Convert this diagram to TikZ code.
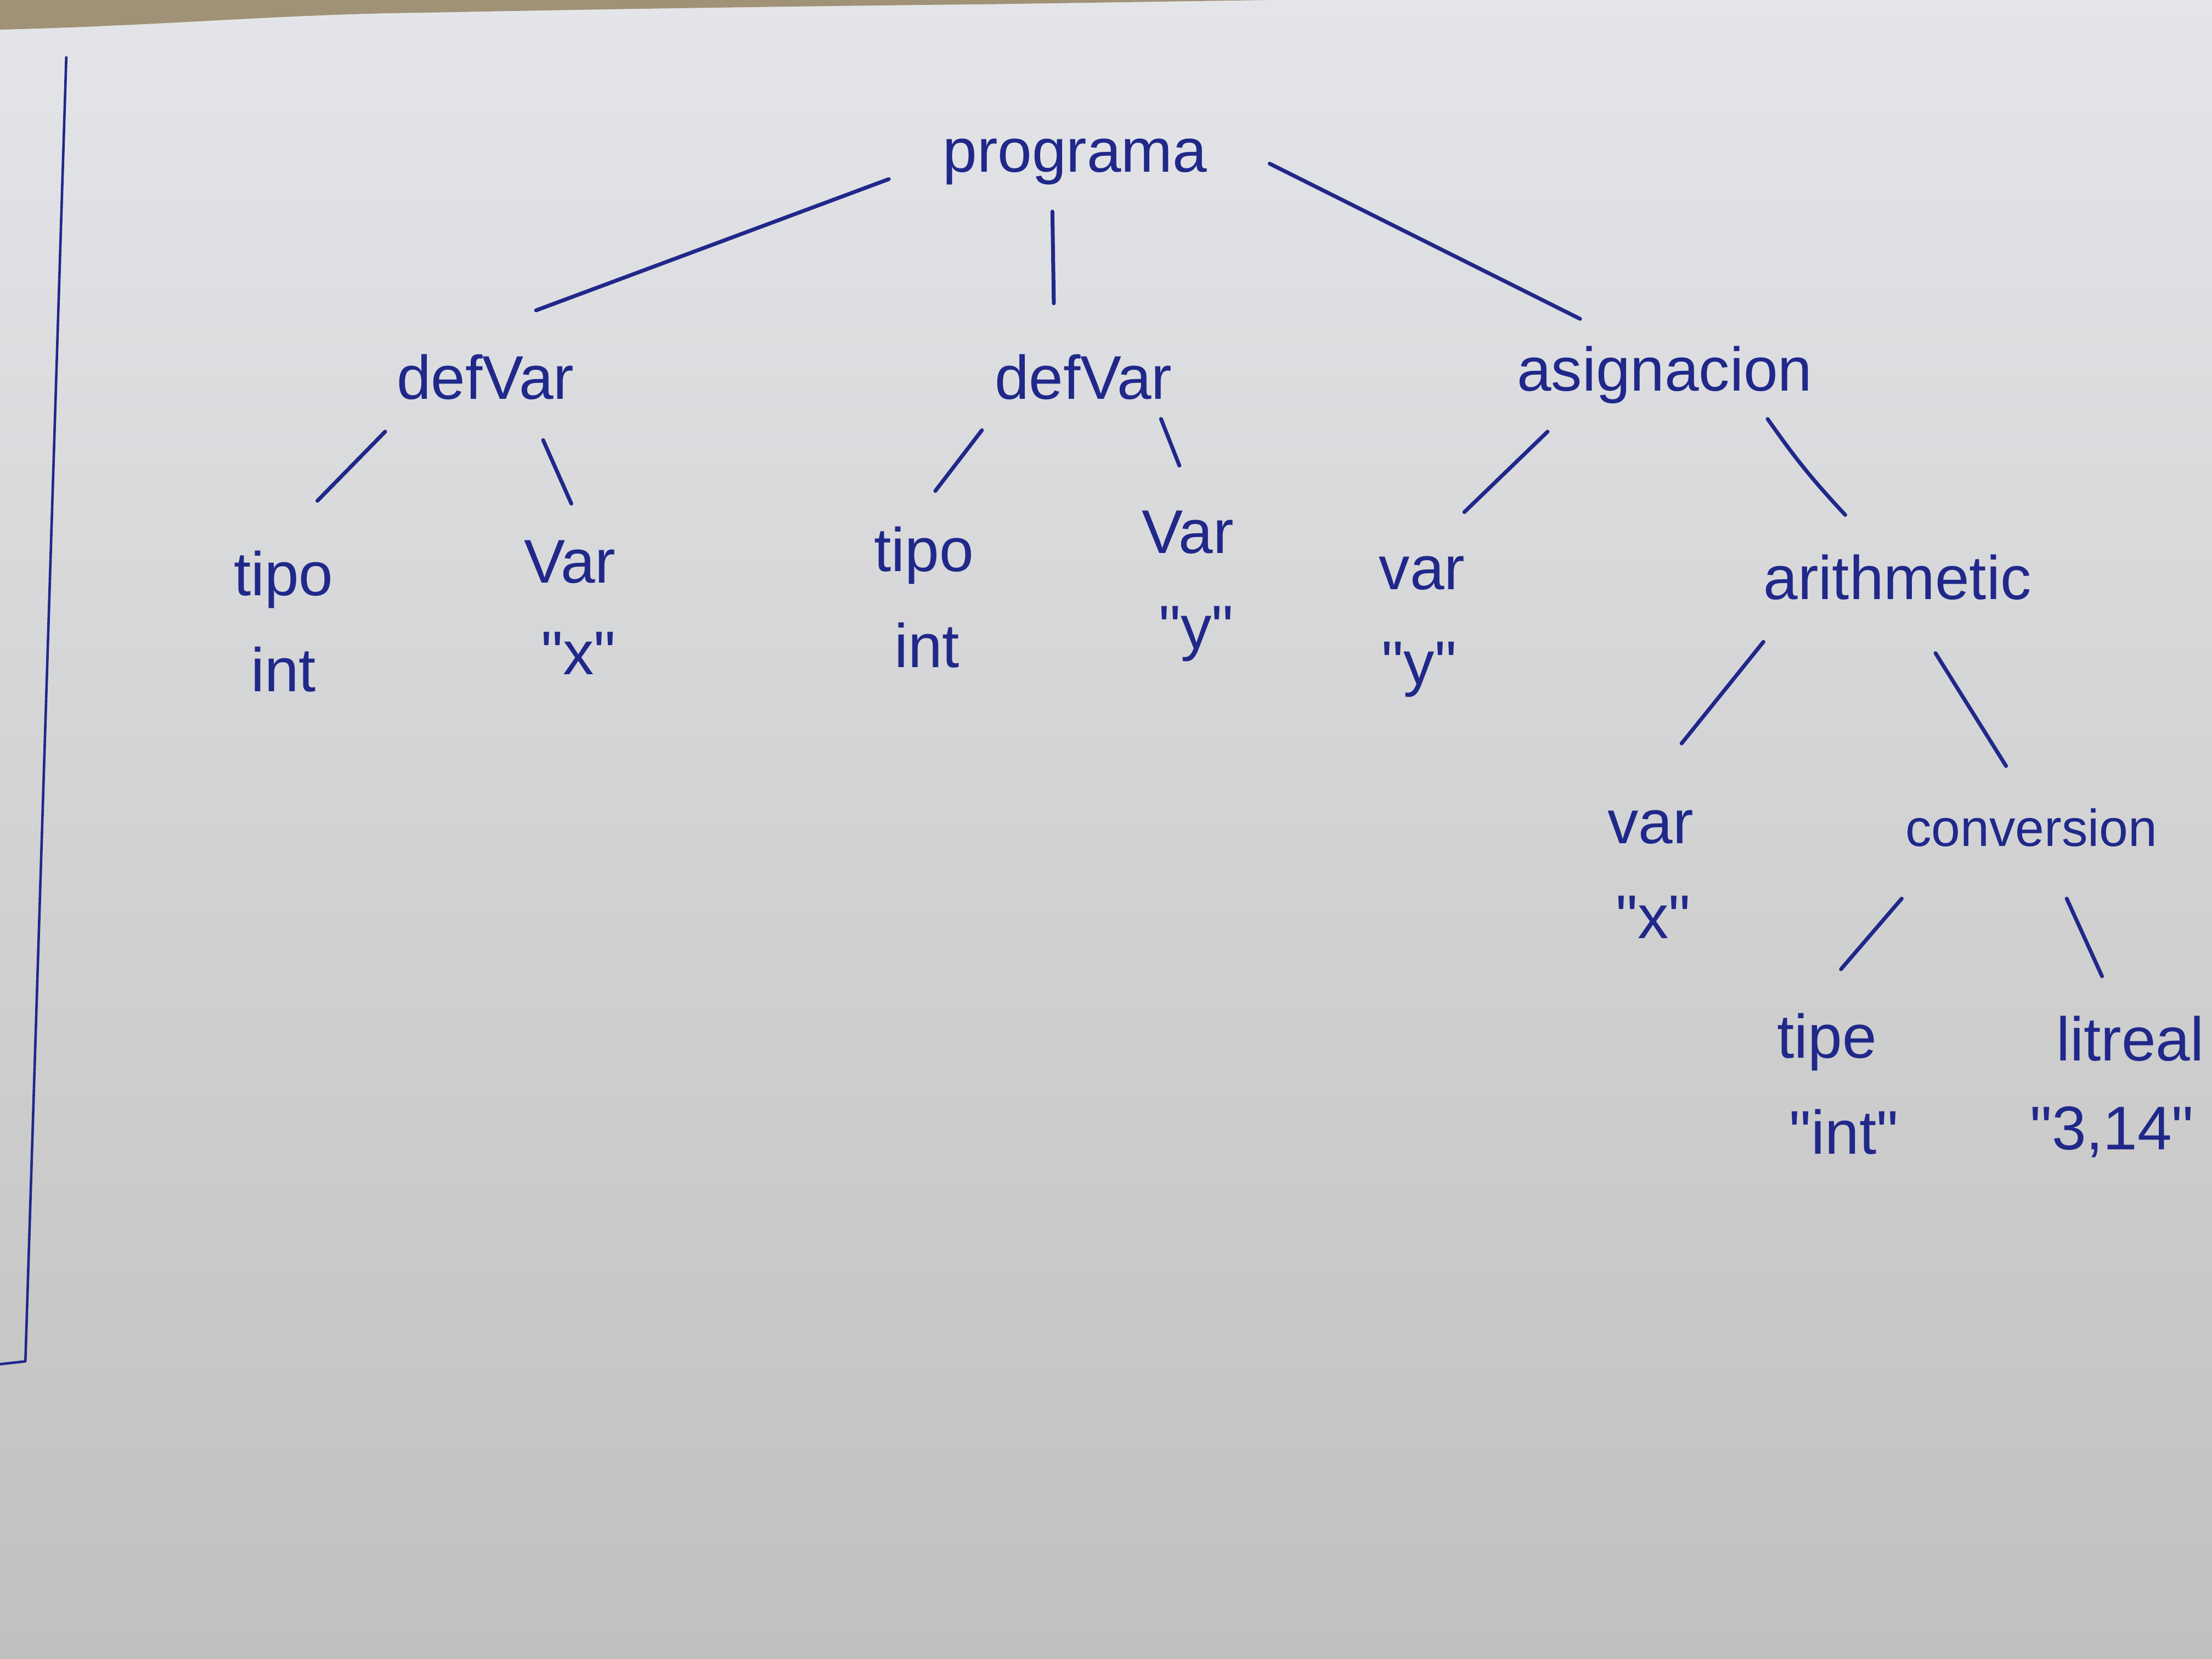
\documentclass[tikz,border=0pt]{standalone}
\usepackage{fontspec}
\setmainfont{Liberation Sans}[Ligatures=TeXOff]
\usetikzlibrary{calc}
\definecolor{ink}{RGB}{32,40,138}
\definecolor{papertop}{RGB}{228,229,233}
\definecolor{paperbot}{RGB}{192,192,190}
\definecolor{table}{RGB}{160,146,118}
\begin{document}
\begin{tikzpicture}[x=0.025714cm,y=-0.025714cm,
  lbl/.style={anchor=base,inner sep=0pt,text=ink,font=\fontsize{32}{38}\selectfont},
  lblsm/.style={lbl,font=\fontsize{27}{32}\selectfont},
  edge/.style={draw=ink,line width=2pt,line cap=round}]
\useasboundingbox (0,0) rectangle (1568,1176);
\shade[top color=papertop,bottom color=paperbot] (0,0) rectangle (1568,1176);
\fill[table] (0,0) -- (0,21) .. controls (120,18) and (200,10) .. (300,9)
  .. controls (450,6) and (600,4) .. (700,3) -- (900,0) -- cycle;
% margin line
\draw[ink,line width=1.3pt,line join=round] (47,40) -- (18,965) -- (0,967);
% nodes
\node[lbl] (prog) at (762,122) {programa};
\node[lbl] (dv1) at (344,283) {defVar};
\node[lbl] (dv2) at (768,283) {defVar};
\node[lbl] (asig) at (1180,277) {asignacion};
\node[lbl] (tipo1) at (201,422) {tipo};
\node[lbl] (tipo1v) at (201,490) {int};
\node[lbl] (var1) at (404,413) {Var};
\node[lbl] (var1v) at (410,478) {"x"};
\node[lbl] (tipo2) at (655,405) {tipo};
\node[lbl] (tipo2v) at (657,473) {int};
\node[lbl] (var2) at (842,392) {Var};
\node[lbl] (var2v) at (848,460) {"y"};
\node[lbl] (var3) at (1008,418) {var};
\node[lbl] (var3v) at (1006,485) {"y"};
\node[lbl] (arith) at (1345,425) {arithmetic};
\node[lbl] (var4) at (1170,598) {var};
\node[lbl] (var4v) at (1172,665) {"x"};
\node[lblsm] (conv) at (1440,600) {conversion};
\node[lbl] (tipe) at (1295,750) {tipe};
\node[lbl] (tipev) at (1307,818) {"int"};
\node[lbl] (lit) at (1510,752) {litreal};
\node[lbl] (litv) at (1497,815) {"3,14"};
% connectors
\draw[edge] ($(prog.base)+(-132,5)$) -- ($(dv1.base)+(36,-63)$);
\draw[edge] ($(prog.base)+(-16,28)$) -- ($(dv2.base)+(-21,-68)$);
\draw[edge] ($(prog.base)+(138,-6)$) -- ($(asig.base)+(-60,-51)$);
\draw[edge] ($(dv1.base)+(-71,23)$) -- ($(tipo1.base)+(24,-67)$);
\draw[edge] ($(dv1.base)+(41,29)$) -- ($(var1.base)+(1,-56)$);
\draw[edge] ($(dv2.base)+(-72,22)$) -- ($(tipo2.base)+(8,-57)$);
\draw[edge] ($(dv2.base)+(55,14)$) -- ($(var2.base)+(-6,-62)$);
\draw[edge] ($(asig.base)+(-83,29)$) -- ($(var3.base)+(30,-55)$);
\draw[edge] ($(asig.base)+(73,20)$) to[bend right=4] ($(arith.base)+(-37,-60)$);
\draw[edge] ($(arith.base)+(-95,30)$) -- ($(var4.base)+(22,-71)$);
\draw[edge] ($(arith.base)+(27,38)$) -- ($(conv.base)+(-18,-57)$);
\draw[edge] ($(conv.base)+(-92,37)$) -- ($(tipe.base)+(10,-63)$);
\draw[edge] ($(conv.base)+(25,37)$) -- ($(lit.base)+(-20,-60)$);
\end{tikzpicture}
\end{document}
